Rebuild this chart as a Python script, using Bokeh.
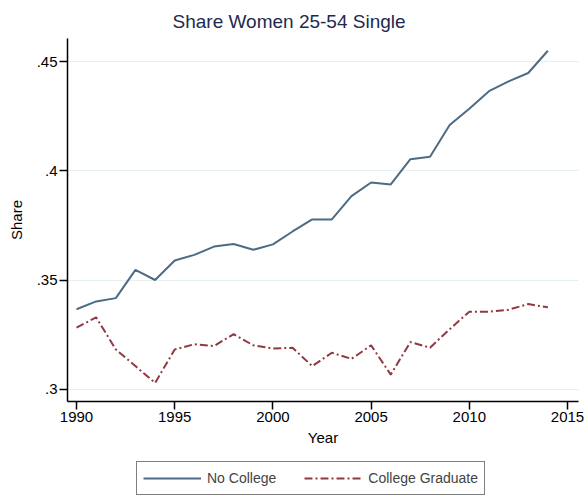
from bokeh.plotting import figure
from bokeh.layouts import column
from bokeh.models import (Legend, LegendItem, FixedTicker, CustomJSTickFormatter, Range1d)
from bokeh.embed import file_html
from bokeh.resources import INLINE

years = list(range(1990, 2015))
no_college = [.3367, .3403, .3418, .3547, .3501, .3590, .3616, .3654, .3666, .3639,
              .3664, .3723, .3778, .3778, .3885, .3947, .3938, .4054, .4065, .4210,
              .4285, .4365, .4410, .4448, .4550]
college_grad = [.3283, .3330, .3183, .3107, .3030, .3183, .3207, .3199, .3253, .3202,
                .3187, .3191, .3107, .3168, .3140, .3202, .3068, .3217, .3191, .3276,
                .3356, .3356, .3365, .3391, .3376]
series_names = ["No College", "College Graduate"]
x_ticks = [1990, 1995, 2000, 2005, 2010, 2015]
y_ticks = [0.30, 0.35, 0.40, 0.45]

FONT = "Liberation Sans"
C1 = "#4d6b84"
C2 = "#8f3a42"
DASH = "8 3 2 3"

p = figure(width=586, height=455, output_backend="svg", toolbar_location=None,
           x_range=Range1d(1989.54, 2015.56), y_range=Range1d(0.2945, 0.4606),
           min_border_left=67, min_border_right=8, min_border_top=38, min_border_bottom=54,
           title="Share Women 25-54 Single")
p.outline_line_color = None
p.background_fill_color = "white"

p.title.align = "left"
p.title.text_font = FONT
p.title.text_font_size = "19px"
p.title.text_font_style = "normal"
p.title.text_color = "#1e2a50"
p.title.offset = 105
p.title.standoff = 14

p.line(years, no_college, line_color=C1, line_width=2)
p.line(years, college_grad, line_color=C2, line_width=2, line_dash=DASH)

p.xgrid.grid_line_color = None
p.ygrid.grid_line_color = "#e6eff1"
p.ygrid.grid_line_width = 1.2
p.ygrid.ticker = FixedTicker(ticks=y_ticks)

p.xaxis.ticker = FixedTicker(ticks=x_ticks)
p.yaxis.ticker = FixedTicker(ticks=y_ticks)
p.yaxis.formatter = CustomJSTickFormatter(
    code="return tick.toFixed(2).replace(/0$/, '').replace(/^0/, '');")

for ax in (p.xaxis[0], p.yaxis[0]):
    ax.axis_line_color = "black"
    ax.axis_line_width = 1.5
    ax.major_tick_line_color = "black"
    ax.major_tick_line_width = 1.5
    ax.major_tick_out = 8
    ax.major_tick_in = 0
    ax.minor_tick_line_color = None
    ax.major_label_text_font = FONT
    ax.major_label_text_font_size = "15px"
    ax.major_label_text_color = "black"
    ax.axis_label_text_font = FONT
    ax.axis_label_text_font_size = "15px"
    ax.axis_label_text_font_style = "normal"
    ax.axis_label_text_color = "black"

p.xaxis.major_label_standoff = 2
p.xaxis.axis_label_standoff = 4
p.yaxis.major_label_standoff = 2
p.yaxis.axis_label_standoff = 9
p.xaxis.axis_label = "Year"
p.yaxis.axis_label = "Share"
p.yaxis.major_label_orientation = "horizontal"

# legend strip below the chart (series drawn outside its visible range)
lg = figure(width=586, height=41, output_backend="svg", toolbar_location=None,
            x_axis_location=None, y_axis_location=None,
            x_range=Range1d(0, 1), y_range=Range1d(0, 1),
            min_border_left=0, min_border_right=0, min_border_top=0, min_border_bottom=0)
lg.grid.visible = False
lg.outline_line_color = None
d1 = lg.line(years, no_college, line_color=C1, line_width=2)
d2 = lg.line(years, college_grad, line_color=C2, line_width=2, line_dash=DASH)
legend = Legend(items=[LegendItem(label=series_names[0], renderers=[d1]),
                       LegendItem(label=series_names[1], renderers=[d2])],
                orientation="horizontal", location=(69, 1))
legend.border_line_color = "black"
legend.border_line_width = 1.5
legend.label_text_font = FONT
legend.label_text_font_size = "14px"
legend.glyph_width = 58
legend.glyph_height = 20
legend.label_standoff = 6
legend.spacing = 28
legend.padding = 6
legend.margin = 0
lg.add_layout(legend, "center")

layout = column(p, lg, spacing=0)
open("out.html", "w").write(file_html(layout, INLINE))
